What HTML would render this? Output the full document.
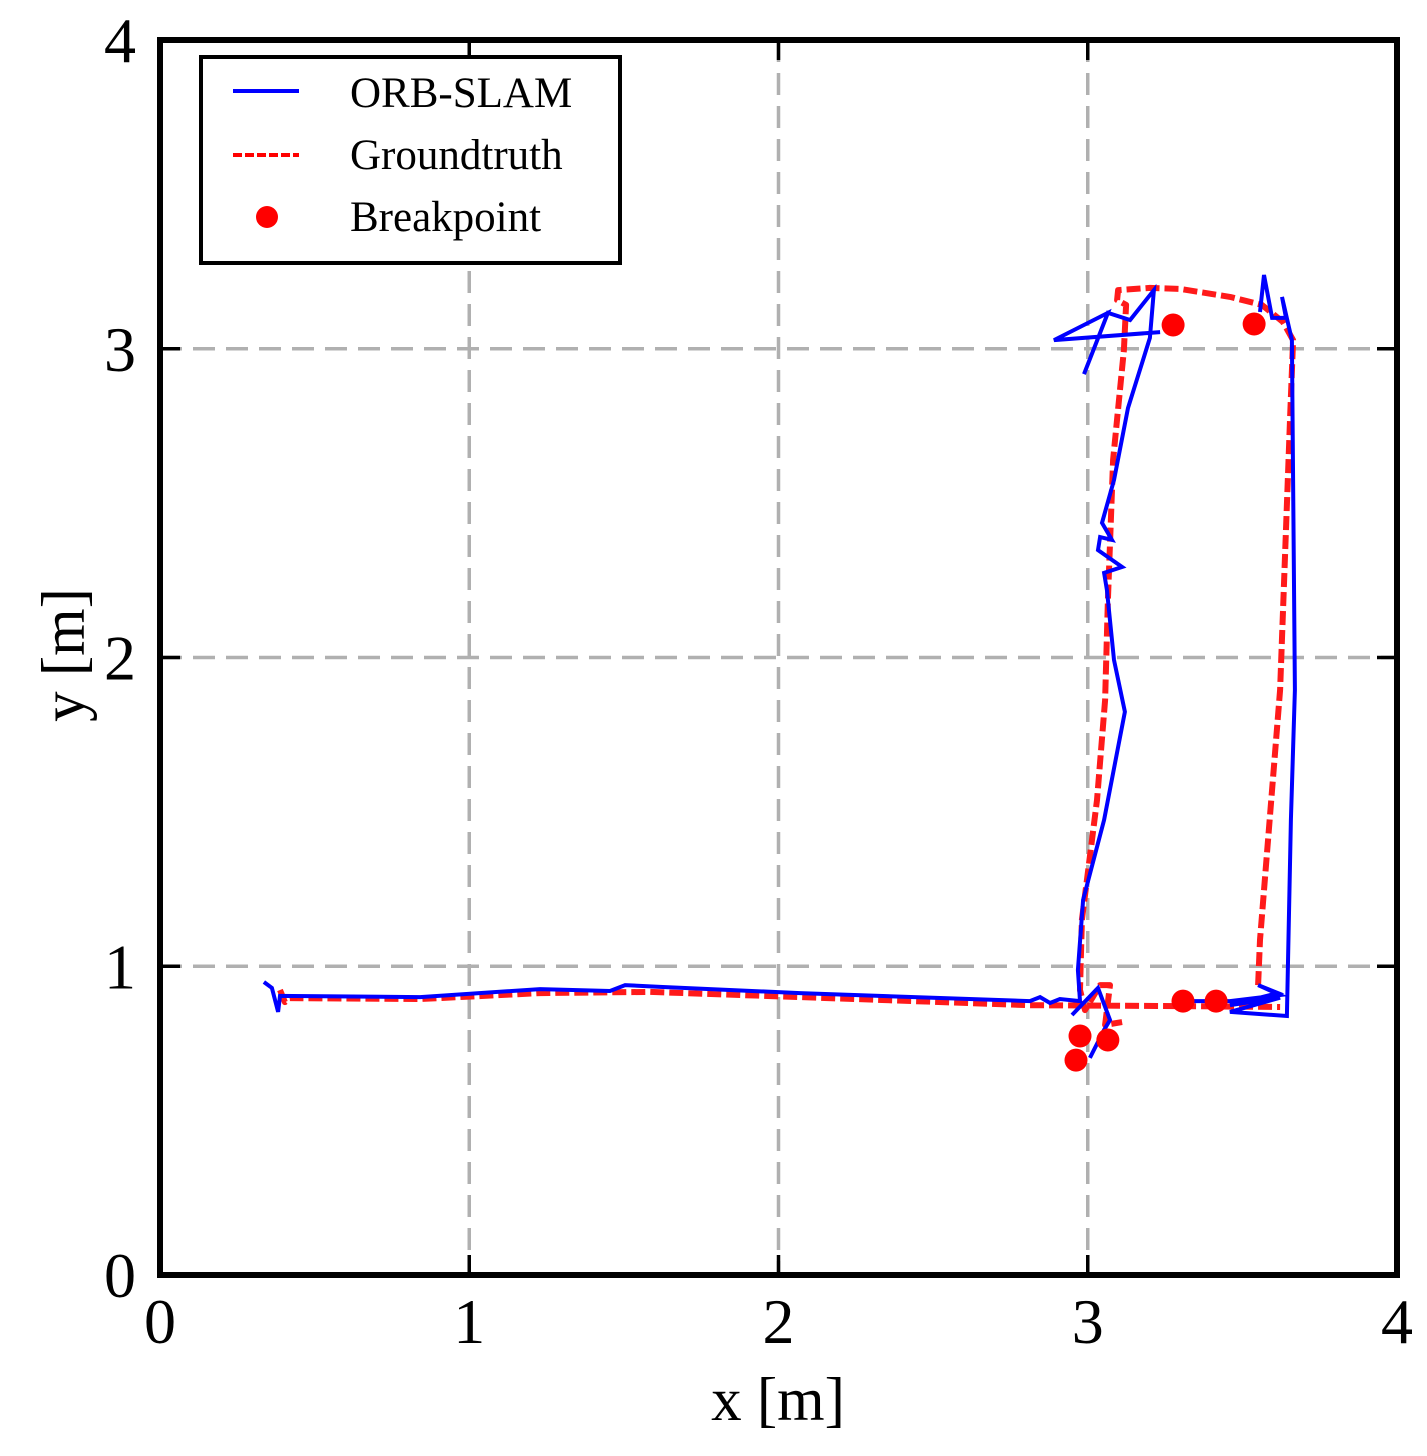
<!DOCTYPE html>
<html><head><meta charset="utf-8"><style>
html,body{margin:0;padding:0;background:#fff;}
svg{display:block;font-family:"Liberation Serif",serif;}
</style></head><body>
<svg id="chart" width="1427" height="1456" viewBox="0 0 1427 1456">
<g id="grid"></g>
<g id="series"></g>
<g id="frame"></g>
<g id="ticks"></g>
<text x="778" y="1420" font-size="61" text-anchor="middle">x [m]</text>
<text transform="translate(84,655) rotate(-90)" font-size="61" text-anchor="middle">y [m]</text>
<g>
<rect x="201" y="57" width="419" height="206" fill="#fff" stroke="#000" stroke-width="4"/>
<g>
<line x1="233" y1="91" x2="299" y2="91" stroke="#0000ff" stroke-width="4"/>
<text x="350" y="107" font-size="43">ORB-SLAM</text></g>
<g>
<line x1="233" y1="155" x2="299" y2="155" stroke="#ff0000" stroke-width="4" stroke-dasharray="9,3"/>
<text x="350" y="169" font-size="43">Groundtruth</text></g>
<g>
<circle cx="267" cy="217" r="11" fill="#ff0000"/>
<text x="350" y="231" font-size="43">Breakpoint</text></g>
</g>
</svg>
<script>
const xTicks=[0,1,2,3,4];
const yTicks=[0,1,2,3,4];
const tickLabels=["0","1","2","3","4"];
// ORB-SLAM estimate (x,y in m); null splits segments
const orbX=[0.336,0.362,0.382,0.388,0.841,1.229,1.455,1.504,1.617,2.070,2.813,2.846,2.878,2.910,2.975,2.968,2.985,3.053,3.120,3.085,3.062,3.053,3.111,3.033,3.040,3.078,3.046,3.085,3.130,3.201,3.214,3.137,3.065,2.988,3.065,2.891,3.234,null,
 2.949,3.033,3.072,3.053,3.007,null,
 3.308,3.460,3.622,3.551,3.615,3.460,3.622,3.460,3.644,3.657,3.670,3.660,3.628,3.641,3.596,3.570,3.557];
const orbY=[0.949,0.930,0.852,0.904,0.900,0.926,0.920,0.939,0.933,0.913,0.887,0.900,0.881,0.894,0.887,0.988,1.215,1.474,1.824,1.992,2.219,2.274,2.293,2.348,2.390,2.381,2.436,2.575,2.808,3.035,3.190,3.093,3.116,2.918,3.116,3.028,3.054,null,
 0.842,0.930,0.826,0.794,0.703,null,
 0.887,0.887,0.907,0.939,0.913,0.874,0.898,0.852,0.839,1.474,1.895,3.028,3.168,3.100,3.100,3.239,3.119];
const gtX=[0.388,0.404,0.420,0.841,1.229,1.584,2.070,2.813,3.298,3.622,null,
 3.551,3.557,3.622,3.654,3.664,3.631,3.563,3.460,3.298,3.201,3.098,3.095,3.124,3.117,3.082,3.065,3.056,3.030,2.981,2.975,2.991,3.040,3.072,3.056,3.111];
const gtY=[0.923,0.884,0.897,0.894,0.913,0.917,0.900,0.874,0.871,0.868,null,
 0.939,1.085,1.895,2.769,3.028,3.087,3.142,3.168,3.194,3.197,3.190,3.158,3.142,2.996,2.640,2.186,1.862,1.538,1.150,0.923,0.858,0.939,0.939,0.810,0.819];
const bpX=[3.276,3.538,3.308,3.415,2.975,3.065,2.962];
const bpY=[3.077,3.080,0.887,0.887,0.774,0.761,0.696];

const NS="http://www.w3.org/2000/svg";
const X0=160,X1=1397,Y0=1275,Y1=40;
const sx=v=>X0+(v-0)/4*(X1-X0);
const sy=v=>Y0-(v-0)/4*(Y0-Y1);
function mk(tag,attrs,parent){const e=document.createElementNS(NS,tag);for(const k in attrs)e.setAttribute(k,attrs[k]);parent.appendChild(e);return e;}
const grid=document.getElementById('grid'),series=document.getElementById('series'),frame=document.getElementById('frame'),ticks=document.getElementById('ticks');
xTicks.forEach(v=>{const l=mk('line',{x1:sx(v),x2:sx(v),y1:Y1,y2:Y0,stroke:'#b0b0b0','stroke-width':3.5,'stroke-dasharray':'22,11'},grid);

});
yTicks.forEach(v=>{const l=mk('line',{x1:X0,x2:X1,y1:sy(v),y2:sy(v),stroke:'#b0b0b0','stroke-width':3.5,'stroke-dasharray':'22,11'},grid);

});
function pathFrom(xs,ys){let d='',pen=false;for(let i=0;i<xs.length;i++){if(xs[i]===null){pen=false;continue;}d+=(pen?'L':'M')+sx(xs[i]).toFixed(1)+','+sy(ys[i]).toFixed(1);pen=true;}return d;}
const gt=mk('path',{d:pathFrom(gtX,gtY),fill:'none',stroke:'#ff1a1a','stroke-width':6,'stroke-dasharray':'14,5','stroke-linejoin':'round'},series);


const orb=mk('path',{d:pathFrom(orbX,orbY),fill:'none',stroke:'#0000ff','stroke-width':4,'stroke-linejoin':'miter'},series);


for(let i=0;i<bpX.length;i++){const c=mk('circle',{cx:sx(bpX[i]),cy:sy(bpY[i]),r:11.5,fill:'#ff0000'},series);

}
const fr=mk('rect',{x:X0,y:Y1,width:X1-X0,height:Y0-Y1,fill:'none',stroke:'#000','stroke-width':6},frame);


xTicks.forEach((v,i)=>{
 mk('line',{x1:sx(v),x2:sx(v),y1:Y0,y2:Y0-20,stroke:'#000','stroke-width':3.5},ticks);
 mk('line',{x1:sx(v),x2:sx(v),y1:Y1,y2:Y1+20,stroke:'#000','stroke-width':3.5},ticks);
 const t=mk('text',{x:sx(v),y:Y0+68,'font-size':64,'text-anchor':'middle'},ticks);t.textContent=tickLabels[i];
 
 });
yTicks.forEach((v,i)=>{
 mk('line',{x1:X0,x2:X0+20,y1:sy(v),y2:sy(v),stroke:'#000','stroke-width':3.5},ticks);
 mk('line',{x1:X1,x2:X1-20,y1:sy(v),y2:sy(v),stroke:'#000','stroke-width':3.5},ticks);
 const t=mk('text',{x:X0-24,y:sy(v)+22,'font-size':64,'text-anchor':'end'},ticks);t.textContent=tickLabels[i];
 
 });
</script>
</body></html>
